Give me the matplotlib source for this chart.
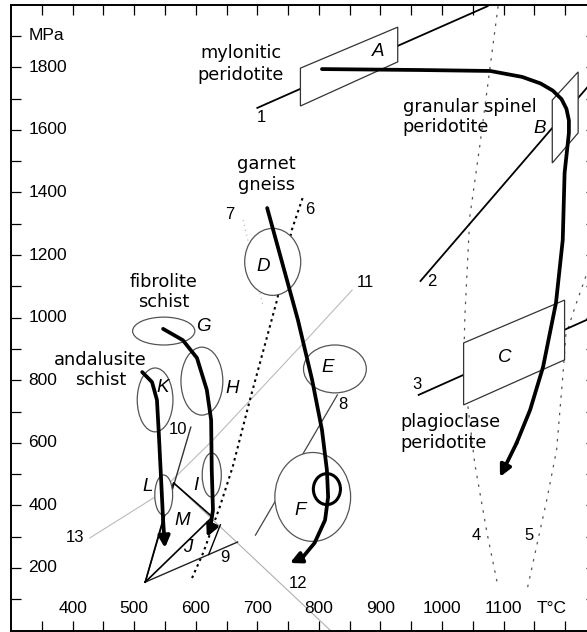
import matplotlib
matplotlib.use("Agg")
import matplotlib.pyplot as plt
from matplotlib.patches import Ellipse, Polygon

# ---------------- data (T in deg C, P in MPa) ----------------
x_ticks_major = [400, 500, 600, 700, 800, 900, 1000, 1100]
y_ticks_major = [200, 400, 600, 800, 1000, 1200, 1400, 1600, 1800]

# reaction lines
line1_T = [700, 1074]; line1_P = [1670, 1995]
line2_T = [965, 1250]; line2_P = [1117, 1768]
line3_T = [962, 1250]; line3_P = [753, 1006]
line4_T = [1091, 1078, 1061, 1045, 1037, 1035, 1053, 1073, 1091]
line4_P = [1995, 1800, 1545, 1321, 1002, 833, 535, 312, 139]
line5_T = [1139, 1170, 1186, 1196, 1201, 1217, 1240]
line5_P = [139, 417, 577, 810, 944, 1040, 1168]
line6_T = [594, 612, 639, 660, 688, 732, 756, 774]
line6_P = [168, 248, 395, 523, 737, 1056, 1280, 1385]
line7_T = [677, 709]; line7_P = [1312, 1040]
line8_T = [697, 830]; line8_P = [305, 753]
line9_T = [518, 668]; line9_P = [155, 283]
line10_T = [518, 592]; line10_P = [155, 650]
line11_T = [428, 534, 628, 769, 854]; line11_P = [296, 427, 609, 906, 1088]
line12_T = [564, 819]; line12_P = [472, 0]
triM_T = [518, 564, 627]; triM_P = [155, 472, 363]
edgeJ_T = [640, 621]; edgeJ_P = [338, 243]

# parallelogram fields (T, P corners)
boxA = [(770, 1676), (770, 1797), (928, 1928), (928, 1817)]
boxB = [(1179, 1494), (1179, 1695), (1221, 1785), (1221, 1590)]
boxC = [(1035, 721), (1035, 919), (1199, 1056), (1199, 865)]

# ellipse fields: (T centre, P centre, width degC, height MPa)
ell_names = ["D", "E", "F", "G", "H", "I", "K", "L"]
ell_T = [725, 826, 790, 548, 610, 626, 534, 548]
ell_P = [1178, 836, 427, 957, 797, 497, 737, 433]
ell_w = [91, 102, 123, 101, 68, 31, 58, 29]
ell_h = [214, 153, 284, 89, 217, 141, 204, 128]
ellF_small = (813, 452, 44, 99)

# P-T paths (thick arrows)
perid_T = [805, 964, 1078, 1130, 1160, 1180, 1194, 1202, 1206, 1206, 1199, 1196, 1185, 1164, 1143, 1121, 1094]
perid_P = [1794, 1791, 1788, 1769, 1748, 1725, 1698, 1667, 1630, 1590, 1462, 1248, 1047, 842, 705, 599, 491]
gneiss_T = [716, 766, 789, 805, 813, 815, 810, 793, 774, 753]
gneiss_P = [1350, 992, 801, 641, 513, 427, 353, 280, 235, 216]
fibro_T = [547, 579, 602, 618, 625, 626, 628, 623, 618]
fibro_P = [964, 928, 871, 769, 673, 513, 385, 321, 299]
andal_T = [513, 529, 537, 540, 543, 547, 550]
andal_P = [826, 794, 737, 631, 513, 353, 264]

# labels
field_letters = ["A", "B", "C", "D", "E", "F", "G", "H", "I", "J", "K", "L", "M"]
letter_T = [896, 1158, 1102, 709, 815, 769, 612, 659, 600, 587, 547, 522, 578]
letter_P = [1849, 1603, 874, 1162, 842, 385, 970, 775, 465, 264, 778, 459, 353]
num_labels = ["1", "2", "3", "4", "5", "6", "7", "8", "9", "10", "11", "12", "13"]
num_T = [707, 983, 959, 1056, 1141, 785, 655, 839, 647, 571, 875, 766, 404]
num_P = [1638, 1114, 785, 305, 305, 1344, 1328, 721, 235, 641, 1111, 152, 296]
rock_lines = ["mylonitic", "peridotite", "granular spinel", "peridotite", "garnet", "gneiss",
              "fibrolite", "schist", "andalusite", "schist", "plagioclase", "peridotite"]
rock_T = [673, 673, 936, 936, 715, 715, 548, 548, 445, 445, 932, 932]
rock_P = [1845, 1775, 1673, 1609, 1492, 1425, 1115, 1050, 866, 802, 667, 600]
rock_ha = ["center", "center", "left", "left", "center", "center",
           "center", "center", "center", "center", "left", "left"]

# ---------------- figure ----------------
fig = plt.figure(figsize=(5.87, 6.32), dpi=100)
ax = fig.add_axes([11/587, 1.4/632, 585/587, 626/632])
ax.set_xlim(300, 1250)
ax.set_ylim(0, 2000)
for s in ax.spines.values():
    s.set_linewidth(1.4)
ax.set_xticks(range(350, 1250, 50))
ax.set_yticks(range(100, 2000, 100))
ax.tick_params(direction="in", length=7, width=0.9, top=True, right=True,
               labelbottom=False, labelleft=False)

numfont = dict(family="Liberation Sans", size=12.5)
for t in x_ticks_major:
    ax.text(t, 70, str(t), ha="center", va="center", **numfont)
ax.text(1178, 70, "T°C", ha="center", va="center", **numfont)
for p in y_ticks_major:
    ax.text(328, p, str(p), ha="left", va="center", **numfont)
ax.text(328, 1900, "MPa", ha="left", va="center", **numfont)

# faint lines
ax.plot(line11_T, line11_P, color="#bbbbbb", lw=0.8, zorder=1)
ax.plot(line12_T, line12_P, color="#b0b0b0", lw=0.8, zorder=1)
ax.plot(line7_T, line7_P, color="#c0c0c0", lw=0.9, ls=(0, (1, 3)), zorder=1)
# dotted lines
ax.plot(line4_T, line4_P, color="#555555", lw=0.9, ls=(0, (2, 5)), zorder=1.5)
ax.plot(line5_T, line5_P, color="#555555", lw=0.9, ls=(0, (2, 5)), zorder=1.5)
ax.plot(line6_T, line6_P, color="black", lw=1.5, ls=(0, (1.2, 1.8)), zorder=1.5)
# solid reaction lines
for T, P in [(line1_T, line1_P), (line2_T, line2_P), (line3_T, line3_P)]:
    ax.plot(T, P, color="black", lw=1.3, zorder=2)
ax.plot(line8_T, line8_P, color="#444444", lw=0.9, zorder=2)
ax.plot(line9_T, line9_P, color="#222222", lw=1.0, zorder=2)
ax.plot(line10_T, line10_P, color="#333333", lw=1.0, zorder=2)
ax.plot(triM_T + [triM_T[0]], triM_P + [triM_P[0]], color="black", lw=1.2, zorder=2)
ax.plot(edgeJ_T, edgeJ_P, color="black", lw=1.0, zorder=2)

# boxes
for box in [boxA, boxB, boxC]:
    ax.add_patch(Polygon(box, closed=True, facecolor="white", edgecolor="#333333",
                         lw=0.9, zorder=3))
# ellipses
for n, T, P, w, h in zip(ell_names, ell_T, ell_P, ell_w, ell_h):
    ax.add_patch(Ellipse((T, P), w, h, facecolor="white", edgecolor="#555555",
                         lw=0.9, zorder=3))
ax.add_patch(Ellipse(ellF_small[:2], ellF_small[2], ellF_small[3], facecolor="none",
                     edgecolor="black", lw=2.2, zorder=4))

# thick P-T paths with arrowheads
for T, P in [(perid_T, perid_P), (gneiss_T, gneiss_P), (fibro_T, fibro_P), (andal_T, andal_P)]:
    ax.plot(T[:-1], P[:-1], color="black", lw=2.7, solid_capstyle="round",
            solid_joinstyle="round", zorder=5)
    ax.annotate("", xy=(T[-1], P[-1]), xytext=(T[-2], P[-2]),
                arrowprops=dict(arrowstyle="-|>", color="black", lw=2.7,
                                mutation_scale=17, shrinkA=0, shrinkB=0), zorder=5)

# labels
for s, T, P in zip(field_letters, letter_T, letter_P):
    ax.text(T, P, s, ha="center", va="center", family="Liberation Sans",
            style="italic", size=13.5, zorder=6)
for s, T, P in zip(num_labels, num_T, num_P):
    ax.text(T, P, s, ha="center", va="center", family="Liberation Sans",
            size=12, zorder=6)
for s, T, P, ha in zip(rock_lines, rock_T, rock_P, rock_ha):
    ax.text(T, P, s, ha=ha, va="center", family="DejaVu Sans", size=12.8, zorder=6)

fig.savefig("out.png", dpi=100)
